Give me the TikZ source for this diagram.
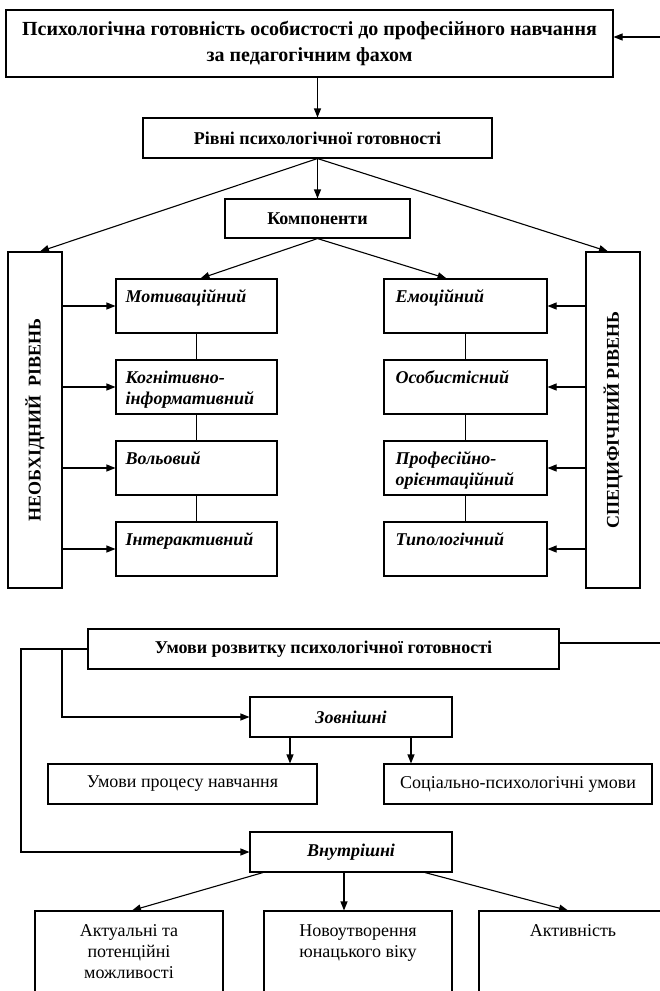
\documentclass[tikz,border=0pt]{standalone}
\usepackage{fontspec}
\setmainfont{Liberation Serif}
\usetikzlibrary{arrows.meta}
\begin{document}
\begin{tikzpicture}[x=1pt,y=-1pt,
  bx/.style 2 args={draw=black, line width=1.1pt, inner sep=0pt, minimum width=#1pt, minimum height=#2pt},
  hd/.style={font=\bfseries\fontsize{18}{21}\selectfont},
  hdi/.style={font=\bfseries\itshape\fontsize{18}{21}\selectfont},
  rg/.style={font=\fontsize{18}{21}\selectfont},
  ttl/.style={font=\bfseries\fontsize{20}{26}\selectfont, align=center},
  comptxt/.style={inner sep=0pt, anchor=north west, align=left, font=\bfseries\itshape\fontsize{18}{21}\selectfont},
  vtxt/.style={inner sep=0pt, rotate=90, font=\bfseries\fontsize{18}{21}\selectfont},
  regtxt/.style={inner sep=0pt, anchor=north, align=center, font=\fontsize{18}{21}\selectfont},
  ln/.style={line width=1.1pt},
  arr/.style={line width=1.1pt, -{Triangle[length=9pt,width=7pt]}}
]
\useasboundingbox (0,0) rectangle (660,991);
\clip (0,0) rectangle (660,991);

% top part
\node[bx={607}{67}, ttl] (top) at (309.5,43.5) {Психологічна готовність особистості до професійного навчання\\за педагогічним фахом};
\node[bx={349}{40}, hd] (rivni) at (317.5,138) {Рівні психологічної готовності};
\node[bx={185}{39}, hd] (komp) at (317.5,218.5) {Компоненти};
\node[bx={54}{336}] (nl) at (35,420) {};
\node[bx={54}{336}] (nr) at (613,420) {};
\node[vtxt] (nlt) at (nl.center) {НЕОБХІДНИЙ \ РІВЕНЬ};
\node[vtxt] (nrt) at (nr.center) {СПЕЦИФІЧНИЙ РІВЕНЬ};

% left components
\node[bx={161}{54}] (m1) at (196.5,306) {};
\node[bx={161}{54}] (m2) at (196.5,387) {};
\node[bx={161}{54}] (m3) at (196.5,468) {};
\node[bx={161}{54}] (m4) at (196.5,549) {};
% right components
\node[bx={163}{54}] (e1) at (465.5,306) {};
\node[bx={163}{54}] (e2) at (465.5,387) {};
\node[bx={163}{54}] (e3) at (465.5,468) {};
\node[bx={163}{54}] (e4) at (465.5,549) {};

\node[comptxt] (m1t) at ([xshift=10pt,yshift=-9pt]m1.north west) {\strut Мотиваційний};
\node[comptxt] (m2t) at ([xshift=10pt,yshift=-9pt]m2.north west) {\strut Когнітивно-\\інформативний};
\node[comptxt] (m3t) at ([xshift=10pt,yshift=-9pt]m3.north west) {\strut Вольовий};
\node[comptxt] (m4t) at ([xshift=10pt,yshift=-9pt]m4.north west) {\strut Інтерактивний};
\node[comptxt] (e1t) at ([xshift=12pt,yshift=-9pt]e1.north west) {\strut Емоційний};
\node[comptxt] (e2t) at ([xshift=12pt,yshift=-9pt]e2.north west) {\strut Особистісний};
\node[comptxt] (e3t) at ([xshift=12pt,yshift=-9pt]e3.north west) {\strut Професійно-\\орієнтаційний};
\node[comptxt] (e4t) at ([xshift=12pt,yshift=-9pt]e4.north west) {\strut Типологічний};

\coordinate (rin) at (660,37);
\draw[arr] (rin) -- (rin -| top.east);
\draw[arr] (rivni.north |- top.south) -- (rivni.north);
\draw[arr] (rivni.south) -- (komp.north);
\draw[arr] (rivni.south) -- ([xshift=5pt]nl.north);
\draw[arr] (rivni.south) -- ([xshift=-5pt]nr.north);
\draw[arr] (komp.south) -- ([xshift=4pt]m1.north);
\draw[arr] (komp.south) -- ([xshift=-19pt]e1.north);

\foreach \i in {1,2,3,4}{
  \draw[arr] (nl.east |- m\i.west) -- (m\i.west);
  \draw[arr] (nr.west |- e\i.east) -- (e\i.east);
}
\draw[ln] (m1.south) -- (m2.north);
\draw[ln] (m2.south) -- (m3.north);
\draw[ln] (m3.south) -- (m4.north);
\draw[ln] (e1.south) -- (e2.north);
\draw[ln] (e2.south) -- (e3.north);
\draw[ln] (e3.south) -- (e4.north);

% bottom part
\node[bx={471}{40}, hd] (umovy) at (323.5,649) {Умови розвитку психологічної готовності};
\node[bx={202}{40}, hdi] (zov) at (351,717) {Зовнішні};
\node[bx={269}{40}, rg] (up) at (182.5,784) {Умови процесу навчання};
\node[bx={268}{40}, rg] (sp) at (518,784) {Соціально-психологічні умови};
\node[bx={202}{40}, hdi] (vn) at (351,852) {Внутрішні};
\node[bx={188}{100}] (a1) at (129,961) {};
\node[bx={188}{100}] (a2) at (358,961) {};
\node[bx={188}{100}] (a3) at (573,961) {};
\node[regtxt] (a1t) at ([yshift=-11.3pt]a1.north) {\strut Актуальні та\\потенційні\\можливості};
\node[regtxt] (a2t) at ([yshift=-11.3pt]a2.north) {\strut Новоутворення\\юнацького віку};
\node[regtxt] (a3t) at ([yshift=-11.3pt]a3.north) {\strut Активність};

\coordinate (rout) at (660,643);
\draw[ln] ([yshift=6pt]umovy.east) -- (rout);
\coordinate (lc) at (21,649);
\coordinate (bc) at (62,649);
\draw[arr] (umovy.west) -- (lc) |- (vn.west);
\draw[arr] (bc) |- (zov.west);
\draw[arr] ([xshift=-61pt]zov.south) -- ([xshift=-61pt]zov.south |- up.north);
\draw[arr] ([xshift=60pt]zov.south) -- ([xshift=60pt]zov.south |- sp.north);
\draw[arr] ([xshift=-88pt]vn.south) -- ([xshift=3pt]a1.north);
\draw[arr] ([xshift=-7pt]vn.south) -- ([xshift=-7pt]vn.south |- a2.north);
\draw[arr] ([xshift=74pt]vn.south) -- ([xshift=-5pt]a3.north);
\end{tikzpicture}
\end{document}
